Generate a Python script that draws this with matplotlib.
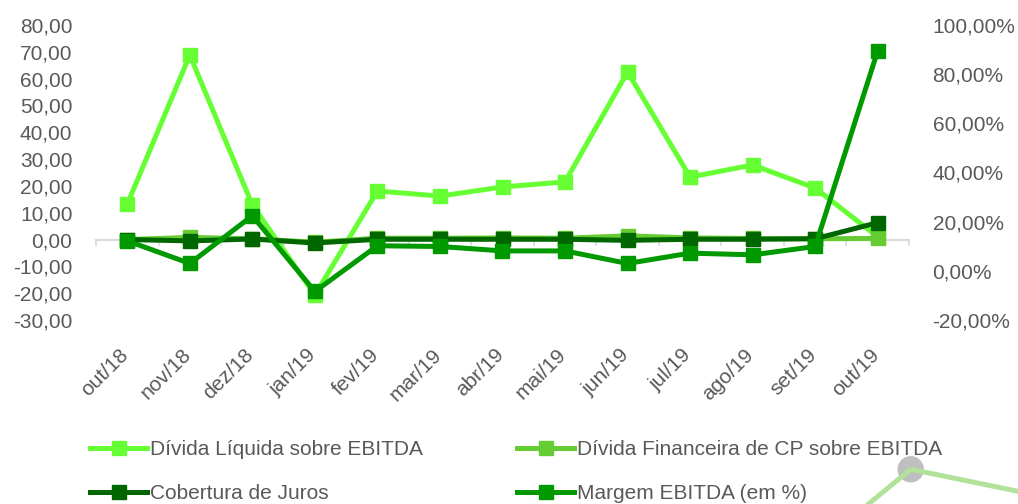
import numpy as np
import matplotlib
matplotlib.use("Agg")
import matplotlib.pyplot as plt
import matplotlib.transforms as mtransforms
from matplotlib.lines import Line2D
from matplotlib.patches import Ellipse

plt.rcParams['font.family'] = ['Liberation Sans', 'DejaVu Sans']

# dados
meses = ['out/18', 'nov/18', 'dez/18', 'jan/19', 'fev/19', 'mar/19', 'abr/19',
         'mai/19', 'jun/19', 'jul/19', 'ago/19', 'set/19', 'out/19']
divida_liquida = [13.2, 68.8, 12.9, -20.7, 18.1, 16.2, 19.6, 21.5, 62.5, 23.3, 27.8, 19.2, 1.0]
divida_cp = [0.0, 0.8, 0.3, -1.0, 0.5, 0.5, 0.6, 0.5, 1.4, 0.6, 0.4, 0.3, 0.4]
cobertura = [0.0, -0.5, 0.2, -1.3, 0.1, 0.1, 0.1, 0.1, -0.3, 0.1, 0.1, 0.3, 6.3]
margem = [12.2, 3.0, 22.4, -8.4, 10.2, 9.9, 8.1, 8.1, 3.0, 7.2, 6.5, 9.9, 89.5]  # em %

cor_dl = '#66FF33'
cor_cp = '#66CC33'
cor_cob = '#006600'
cor_mg = '#009900'
cinza = '#595959'

W, H = 1018, 504
fig = plt.figure(figsize=(W / 100, H / 100), dpi=100)
ax = fig.add_axes([96 / W, (H - 320) / H, (909 - 96) / W, (320 - 25) / H])
ax2 = ax.twinx()

x = np.arange(len(meses))
lw, ms = 3.6, 10
l1, = ax.plot(x, divida_liquida, color=cor_dl, lw=lw, marker='s', ms=ms,
              label='Dívida Líquida sobre EBITDA')
l2, = ax.plot(x, divida_cp, color=cor_cp, lw=lw, marker='s', ms=ms,
              label='Dívida Financeira de CP sobre EBITDA')
l3, = ax.plot(x, cobertura, color=cor_cob, lw=lw, marker='s', ms=ms,
              label='Cobertura de Juros')
l4, = ax2.plot(x, margem, color=cor_mg, lw=lw, marker='s', ms=ms,
               label='Margem EBITDA (em %)')

# eixo esquerdo
ax.set_ylim(-30, 80)
ax.set_yticks(np.arange(-30, 81, 10))
ax.set_yticklabels([f'{v:.2f}'.replace('.', ',') for v in np.arange(-30, 81, 10)])
ax.set_xlim(-0.5, len(meses) - 0.5)
ax.set_xticks(x)
ax.set_xticklabels(meses, rotation=45, ha='right')
ax.tick_params(axis='x', length=0, pad=18, labelsize=15, labelcolor=cinza)
ax.tick_params(axis='y', length=0, pad=17, labelsize=15, labelcolor=cinza)
desloc = mtransforms.ScaledTranslation(5 / 100, 0, fig.dpi_scale_trans)
for t in ax.get_xticklabels():
    t.set_transform(t.get_transform() + desloc)

# eixo direito
ax2.set_ylim(-20, 100)
ax2.set_yticks(np.arange(-20, 101, 20))
ax2.set_yticklabels([f'{v:.2f}%'.replace('.', ',') for v in np.arange(-20, 101, 20)])
ax2.tick_params(axis='y', length=0, pad=17, labelsize=15, labelcolor=cinza)

for a in (ax, ax2):
    for s in a.spines.values():
        s.set_visible(False)

# linha do zero com marcas entre categorias
zero = ax.secondary_xaxis(30 / 110)
zero.set_xticks(np.arange(-0.5, len(meses), 1.0))
zero.set_xticklabels([])
zero.tick_params(length=4, width=1.2, color='#D9D9D9')
for s in zero.spines.values():
    s.set_color('#D9D9D9')
    s.set_linewidth(1.5)
ax.set_zorder(1)
ax2.set_zorder(2)

fig.legend(handles=[l1, l3, l2, l4], ncol=2, loc='upper left',
           bbox_to_anchor=(90 / W, (H - 440) / H), frameon=False,
           fontsize=15, labelcolor=cinza, handlelength=2.75, handletextpad=0.15,
           columnspacing=4.5, labelspacing=1.2, borderpad=0, borderaxespad=0)

# detalhe decorativo no canto
tf = fig.transFigure
cx, cy = 910.7, 469.3
fig.add_artist(Line2D([cx / W, 1020 / W], [(H - cy) / H, (H - 491.7) / H],
                      transform=tf, color='#B2E29A', lw=3.6, solid_capstyle='butt'))
fig.add_artist(Line2D([cx / W, 866 / W], [(H - cy) / H, (H - 506) / H],
                      transform=tf, color='#B2E29A', lw=3.6, solid_capstyle='butt'))
fig.add_artist(Ellipse((cx / W, (H - cy) / H), 25 / W, 25 / H, transform=tf,
                       color='#BFBFBF'))

fig.savefig('out.png', dpi=100)
